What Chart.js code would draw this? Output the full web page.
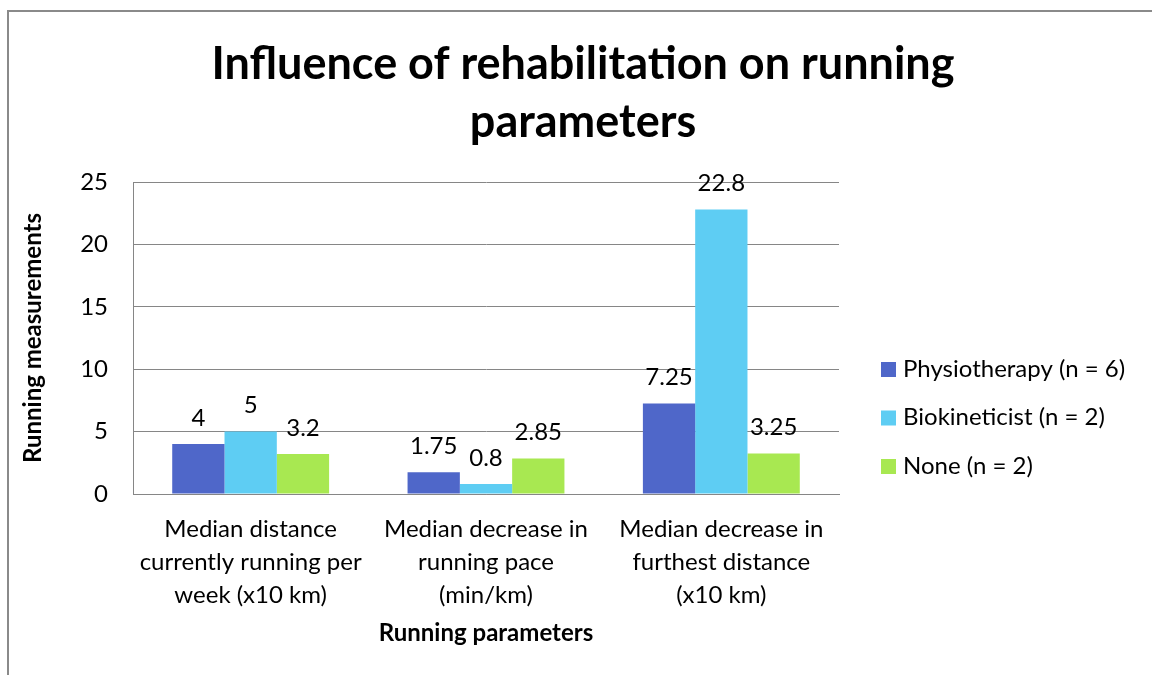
<!DOCTYPE html>
<html>
<head>
<meta charset="utf-8">
<script src="https://cdn.jsdelivr.net/npm/chart.js@4.4.1/dist/chart.umd.min.js"></script>
<style>
  body { margin: 0; background: #fff; }
  .wrap { position: relative; width: 1152px; height: 675px; overflow: hidden; }
  .frame { position: absolute; left: 7px; top: 10px; width: 1200px; height: 700px; border: 2px solid #8a8a8a; box-sizing: border-box; }
  canvas { position: absolute; left: 0; top: 0; }
</style>
</head>
<body>
<div class="wrap">
  <div class="frame"></div>
  <canvas id="chart" width="1152" height="675"></canvas>
</div>
<script>
const categories = [
  ['Median distance', 'currently running per', 'week (x10 km)'],
  ['Median decrease in', 'running pace', '(min/km)'],
  ['Median decrease in', 'furthest distance', '(x10 km)']
];
const physiotherapy = [4, 1.75, 7.25];
const biokineticist = [5, 0.8, 22.8];
const none = [3.2, 2.85, 3.25];
const seriesNames = ['Physiotherapy (n = 6)', 'Biokineticist (n = 2)', 'None (n = 2)'];
const titleLines = ['Influence of rehabilitation on running', 'parameters'];

const FONT = 'Lato, "Open Sans", sans-serif';

// title, data labels and legend are drawn by hand to match the Excel layout
const extras = {
  id: 'extras',
  afterDraw(chart) {
    const ctx = chart.ctx;
    ctx.save();
    ctx.fillStyle = '#000';
    ctx.textAlign = 'center';
    ctx.textBaseline = 'middle';

    ctx.font = 'bold 45px ' + FONT;
    ctx.fillText(titleLines[0], 583, 64);
    ctx.fillText(titleLines[1], 583, 122);

    ctx.font = '24px ' + FONT;
    chart.data.datasets.forEach((ds, i) => {
      chart.getDatasetMeta(i).data.forEach((bar, j) => {
        ctx.fillText(String(ds.data[j]), bar.x, bar.y - 26);
      });
    });

    ctx.textAlign = 'left';
    chart.data.datasets.forEach((ds, i) => {
      const cy = 369 + i * 48.5;
      ctx.fillStyle = ds.backgroundColor;
      ctx.fillRect(881, cy - 7, 15, 15);
      ctx.fillStyle = '#000';
      ctx.fillText(ds.label, 903, cy);
    });
    ctx.restore();
  }
};

new Chart(document.getElementById('chart'), {
  type: 'bar',
  data: {
    labels: categories,
    datasets: [
      { label: seriesNames[0], data: physiotherapy, backgroundColor: '#4f67c9' },
      { label: seriesNames[1], data: biokineticist, backgroundColor: '#5ecdf3' },
      { label: seriesNames[2], data: none, backgroundColor: '#a8e851' }
    ]
  },
  options: {
    responsive: false,
    animation: false,
    layout: { padding: { left: 0, right: 1152 - 839, top: 182, bottom: 0 } },
    datasets: { bar: { categoryPercentage: 2 / 3, barPercentage: 1 } },
    plugins: {
      legend: { display: false },
      title: { display: false },
      tooltip: { enabled: false }
    },
    scales: {
      x: {
        grid: { display: false },
        border: { display: true, color: '#868686', width: 1 },
        ticks: {
          color: '#000',
          font: { family: FONT, size: 24, lineHeight: '33px' },
          padding: 11,
          maxRotation: 0,
          autoSkip: false
        },
        title: {
          display: true,
          text: 'Running parameters',
          color: '#000',
          font: { family: FONT, size: 24, weight: 'bold', lineHeight: 1.2 },
          padding: { top: 0, bottom: 27 }
        },
        afterFit(scale) { scale.height = 675 - 494; }
      },
      y: {
        min: 0,
        max: 25,
        ticks: {
          stepSize: 5,
          color: '#000',
          font: { family: FONT, size: 24 },
          padding: 25
        },
        grid: { color: '#868686', lineWidth: 1, drawTicks: false },
        border: { display: true, color: '#868686', width: 1 },
        title: {
          display: true,
          text: 'Running measurements',
          color: '#000',
          font: { family: FONT, size: 24, weight: 'bold', lineHeight: 1.2 },
          padding: { top: 19, bottom: 0 }
        },
        afterFit(scale) { scale.width = 133; }
      }
    }
  },
  plugins: [extras]
});
</script>
</body>
</html>
